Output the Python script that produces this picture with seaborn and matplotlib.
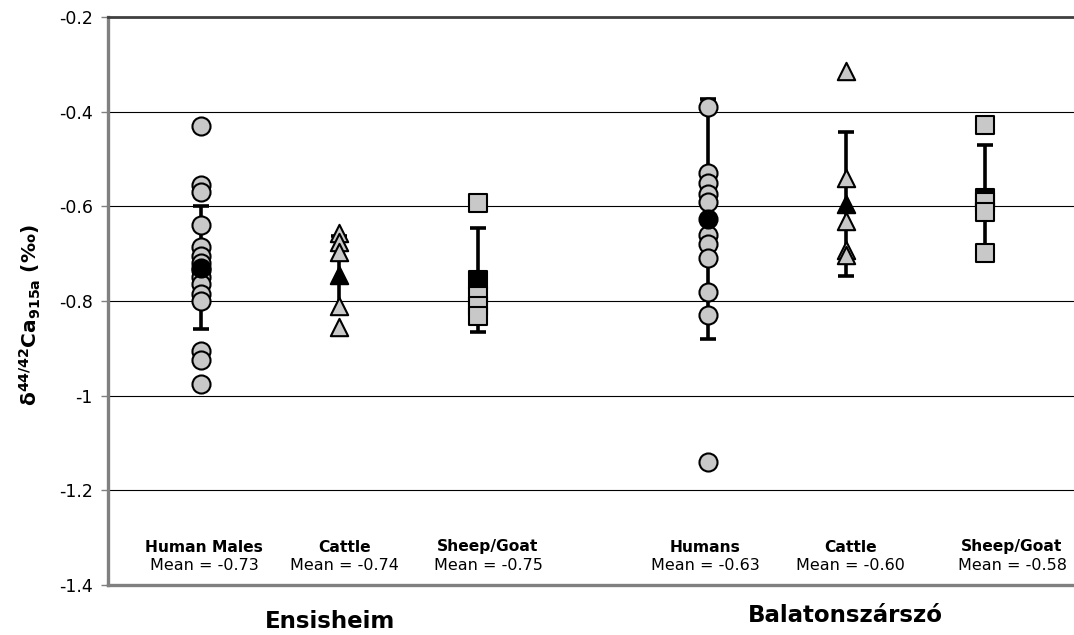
import numpy as np
import pandas as pd
import matplotlib
matplotlib.use("Agg")
import matplotlib.pyplot as plt
import matplotlib.transforms as mtrans
import seaborn as sns

# ---- data ----
group_names = ["Human Males", "Cattle", "Sheep/Goat", "Humans", "Cattle", "Sheep/Goat"]
site_names = ["Ensisheim", "Balatonszárszó"]

human_males_ens = [-0.43, -0.555, -0.57, -0.64, -0.685, -0.705, -0.72, -0.735,
                   -0.75, -0.765, -0.785, -0.80, -0.905, -0.925, -0.975]
cattle_ens = [-0.656, -0.676, -0.697, -0.811, -0.855]
sheepgoat_ens = [-0.593, -0.79, -0.81, -0.832]
humans_bal = [-0.39, -0.53, -0.55, -0.575, -0.59, -0.66, -0.68, -0.71, -0.78, -0.83, -1.14]
cattle_bal = [-0.315, -0.54, -0.632, -0.692, -0.702]
sheepgoat_bal = [-0.428, -0.59, -0.611, -0.699]

group_means = [-0.730, -0.745, -0.755, -0.627, -0.596, -0.582]
group_err = [0.130, 0.083, 0.110, 0.254, 0.152, 0.112]
mean_labels = ["-0.73", "-0.74", "-0.75", "-0.63", "-0.60", "-0.58"]

ytick_values = [-1.4, -1.2, -1.0, -0.8, -0.6, -0.4, -0.2]
ytick_labels = ["-1.4", "-1.2", "-1", "-0.8", "-0.6", "-0.4", "-0.2"]

# ---- layout / style ----
group_values = [human_males_ens, cattle_ens, sheepgoat_ens, humans_bal, cattle_bal, sheepgoat_bal]
group_pos = [0.0, 1.0, 2.0, 3.667, 4.667, 5.667]
label_pos = [0.022, 1.041, 2.075, 3.644, 4.693, 5.864]
site_pos = [0.93, 4.656]
markers = ["o", "^", "s", "o", "^", "s"]
msizes = [13, 12.5, 12.5, 13, 12.5, 12.5]
mean_on_top = [True, True, False, True, True, False]

rows = []
for gi, vals in enumerate(group_values):
    for v in vals:
        rows.append({"g": gi, "pos": group_pos[gi], "value": v})
df = pd.DataFrame(rows)
df_means = pd.DataFrame({"g": range(6), "pos": group_pos, "value": group_means})

sns.set_theme(style="white")
plt.rcParams["font.family"] = ["DejaVu Sans"]
plt.rcParams["mathtext.default"] = "bf"
plt.rcParams["text.color"] = "black"
plt.rcParams["ytick.labelcolor"] = "black"

W, H = 1074, 635
fig = plt.figure(figsize=(W / 100, H / 100), dpi=100)
ax = fig.add_axes([108 / W, 1 - 585 / H, 1 - 108 / W, (585 - 17) / H])

# error bars
ax.errorbar(group_pos, group_means, yerr=group_err, fmt="none", ecolor="black",
            elinewidth=2.6, capsize=6, capthick=2.6, zorder=2)

for gi in range(6):
    sub = df[df["g"] == gi]
    sns.scatterplot(data=sub, x="pos", y="value", marker=markers[gi], s=msizes[gi] ** 2,
                    color="#c8c8c8", edgecolor="black", linewidth=1.5, zorder=4,
                    ax=ax, legend=False)
    msub = df_means[df_means["g"] == gi]
    sns.scatterplot(data=msub, x="pos", y="value", marker=markers[gi], s=msizes[gi] ** 2,
                    color="black", edgecolor="black", linewidth=1.5,
                    zorder=5 if mean_on_top[gi] else 3, ax=ax, legend=False)

ax.set_xlim(-0.672, 6.312)
ax.set_ylim(-1.4, -0.2)
ax.set_xticks([])
ax.set_yticks(ytick_values)
ax.set_yticklabels(ytick_labels)
ax.tick_params(axis="y", left=True, length=5, width=1, color="#808080",
               labelsize=12.5, pad=6, labelcolor="black")
ax.yaxis.grid(True, color="black", linewidth=0.8)
ax.set_axisbelow(True)
ax.set_xlabel("")
ax.set_ylabel("")

for side in ["left", "bottom"]:
    ax.spines[side].set_color("#808080")
    ax.spines[side].set_linewidth(2.4)
ax.spines["top"].set_color("#404040")
ax.spines["top"].set_linewidth(2.0)
ax.spines["right"].set_visible(False)

fig.text(30 / W, 1 - 315 / H, "δ$^{44/42}$Ca$_{915a}$ (‰)", rotation=90,
         fontsize=14.5, fontweight="bold", ha="center", va="center")

tr = mtrans.blended_transform_factory(ax.transData, fig.transFigure)
for gi in range(6):
    ax.text(label_pos[gi], 1 - 547 / H, group_names[gi], transform=tr, ha="center",
            va="center", fontsize=11.2, fontweight="bold", clip_on=False)
    ax.text(label_pos[gi], 1 - 566 / H, "Mean = " + mean_labels[gi], transform=tr,
            ha="center", va="center", fontsize=11.5, clip_on=False)

ax.text(site_pos[0], 1 - 622 / H, site_names[0], transform=tr, ha="center", va="center",
        fontsize=16.5, fontweight="bold", clip_on=False)
ax.text(site_pos[1], 1 - 616 / H, site_names[1], transform=tr, ha="center", va="center",
        fontsize=16.5, fontweight="bold", clip_on=False)

fig.savefig("out.png", dpi=100)
